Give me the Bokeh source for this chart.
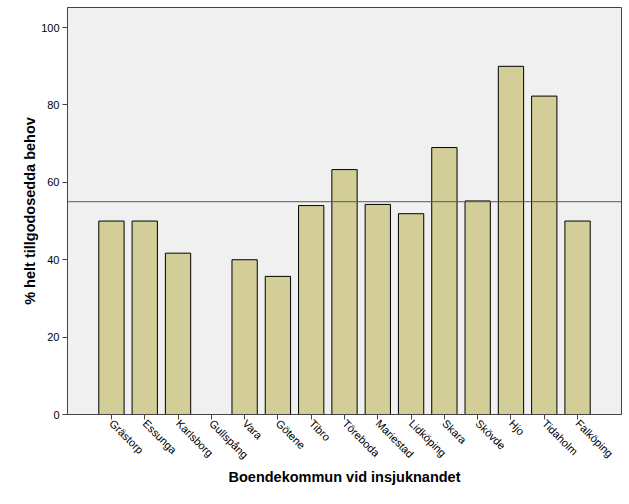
import math
from bokeh.plotting import figure
from bokeh.models import FactorRange, Range1d, Span, ColumnDataSource, FixedTicker
from bokeh.embed import file_html
from bokeh.resources import INLINE

kommuner = ["Grästorp", "Essunga", "Karlsborg", "Gullspång", "Vara", "Götene", "Tibro",
            "Töreboda", "Mariestad", "Lidköping", "Skara", "Skövde", "Hjo", "Tidaholm", "Falköping"]
andel = [50.0, 50.0, 41.7, 0.0, 40.0, 35.7, 54.0, 63.3, 54.3, 51.9, 69.0, 55.2, 90.0, 82.3, 50.0]
referens = 55.0
y_ticks = [0, 20, 40, 60, 80, 100]

src = ColumnDataSource(dict(x=kommuner, y=andel))

p = figure(width=629, height=504, output_backend="svg", toolbar_location=None,
           x_range=FactorRange(*kommuner, range_padding=0.82, range_padding_units="absolute"),
           y_range=Range1d(0, 105.2),
           min_border_left=67, min_border_top=7, min_border_right=8, min_border_bottom=90)

p.background_fill_color = "#f0f0f0"
p.border_fill_color = "white"
p.outline_line_color = "#444444"
p.outline_line_width = 1
p.xgrid.visible = False
p.ygrid.visible = False

p.vbar(x="x", top="y", width=0.76, source=src, fill_color="#d3ce97",
       line_color="black", line_width=1)

p.add_layout(Span(location=referens, dimension="width", line_color="#5a5a5a", line_width=1))

font = "Liberation Sans"
for ax in (p.xaxis[0], p.yaxis[0]):
    ax.major_label_text_font = font
    ax.major_label_text_font_size = "11px"
    ax.major_label_text_color = "black"
    ax.axis_label_text_font = font
    ax.axis_label_text_font_size = "14.5px"
    ax.axis_label_text_font_style = "bold"
    ax.axis_label_text_color = "black"
    ax.major_tick_out = 5
    ax.major_tick_in = 0
    ax.minor_tick_out = 0
    ax.minor_tick_in = 0
    ax.axis_line_color = "#444444"
    ax.major_tick_line_color = "#444444"

p.yaxis[0].ticker = FixedTicker(ticks=y_ticks)
p.yaxis[0].axis_label = "% helt tillgodosedda behov"
p.yaxis[0].major_label_standoff = 3
p.yaxis[0].axis_label_standoff = 0

p.xaxis[0].axis_label = "Boendekommun vid insjuknandet"
p.xaxis[0].major_label_orientation = -math.pi / 4
p.xaxis[0].major_label_standoff = 2
p.xaxis[0].axis_label_standoff = 1

open("out.html", "w").write(file_html(p, INLINE))
